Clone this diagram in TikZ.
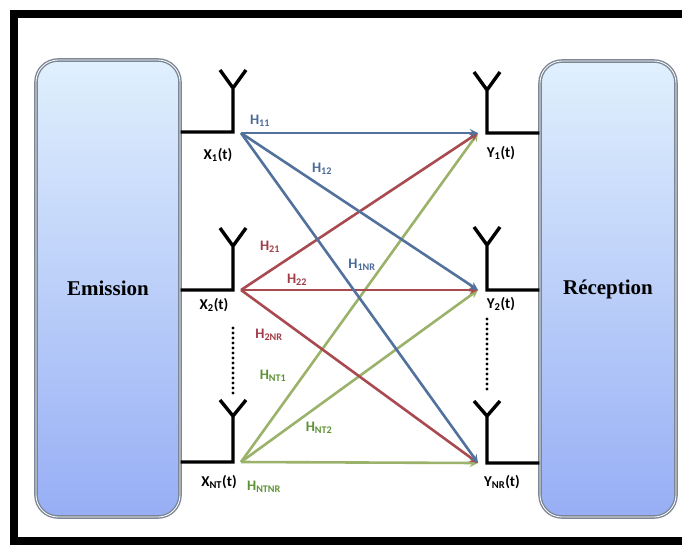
\documentclass[tikz,border=0pt]{standalone}
\usepackage{fontspec}
\setmainfont{Liberation Serif}
\newfontfamily\labelfont{Carlito}
\usepackage{tikz}
\usetikzlibrary{arrows, positioning}
\definecolor{boxtop}{HTML}{E0F0FD}
\definecolor{boxbot}{HTML}{97AEF5}
\definecolor{boxline}{HTML}{7C8796}
\definecolor{chblue}{HTML}{52719C}
\definecolor{chred}{HTML}{A84A50}
\definecolor{chgreen}{HTML}{9AB26A}
\definecolor{lbblue}{HTML}{4A6A9A}
\definecolor{lbred}{HTML}{A03C48}
\definecolor{lbgreen}{HTML}{5E9134}

\begin{document}
\begin{tikzpicture}[x=1pt,y=-1pt]
		\tikzset{BoxStyle/.style = {rounded corners=22pt, draw=boxline, double=white, double distance=0.8pt, line width=1.4pt, top color=boxtop, bottom color=boxbot, font=\bfseries\fontsize{21}{24}\selectfont}}
		\tikzset{AntStyle/.style = {draw=black, line width=3.4pt}}
		\tikzset{DotStyle/.style = {draw=black, line width=3.2pt, line cap=round, dash pattern=on 0pt off 5pt}}
		\tikzset{EdgeStyle/.style = {line width=2.6pt, -stealth}}
		\tikzset{SigLabel/.style = {font=\labelfont\bfseries\fontsize{15}{16}\selectfont, inner sep=0pt}}
		\tikzset{ChLabel/.style = {font=\labelfont\bfseries\fontsize{14.5}{16}\selectfont, inner sep=0pt}}
		\useasboundingbox (0,0) rectangle (682,544);
		\clip (0,0) rectangle (682,544);
		\draw[line width=8pt] (720,14) -- (14,14) -- (14,540.5) -- (720,540.5);% outer frame
		
		\node[BoxStyle, minimum width=144pt, minimum height=457pt] (emission) at (108,288.5) {Emission};
		\node[BoxStyle, minimum width=136pt, minimum height=456pt] (reception) at (608,289) {Réception};
		
		\coordinate (T1) at (233,132);
		\coordinate (T2) at (233,290);
		\coordinate (TN) at (233,462);
		\coordinate (R1) at (487,133);
		\coordinate (R2) at (487,290);
		\coordinate (RN) at (487,463);
		
		\draw[AntStyle] (emission.east |- T1) -- (T1) -- ++(0,-44) -- ++(-13,-18) ++(13,18) -- ++(13,-18);
		\draw[AntStyle] (emission.east |- T2) -- (T2) -- ++(0,-44) -- ++(-13,-18) ++(13,18) -- ++(13,-18);
		\draw[AntStyle] (emission.east |- TN) -- (TN) -- ++(0,-46) -- ++(-13,-16) ++(13,16) -- ++(13,-16);
		\draw[AntStyle] (reception.west |- R1) -- (R1) -- ++(0,-43) -- ++(-13,-18) ++(13,18) -- ++(13,-18);
		\draw[AntStyle] (reception.west |- R2) -- (R2) -- ++(0,-45) -- ++(-13,-18) ++(13,18) -- ++(13,-18);
		\draw[AntStyle] (reception.west |- RN) -- (RN) -- ++(0,-47) -- ++(-13,-15) ++(13,15) -- ++(13,-15);
		
		\coordinate (D1) at (233,328);
		\coordinate (D2) at (233,396);
		\coordinate (D3) at (487,319);
		\coordinate (D4) at (487,391);
		\draw[DotStyle] (D1) -- (D2);
		\draw[DotStyle] (D3) -- (D4);
		
		\node[SigLabel] (x1) at (218,155) {X\textsubscript{1}(t)};
		\node[SigLabel] (x2) at (214,305) {X\textsubscript{2}(t)};
		\node[SigLabel] (xn) at (219,482) {X\textsubscript{NT}(t)};
		\node[SigLabel] (y1) at (501,153) {Y\textsubscript{1}(t)};
		\node[SigLabel] (y2) at (501,304) {Y\textsubscript{2}(t)};
		\node[SigLabel] (yn) at (502,482) {Y\textsubscript{NR}(t)};
		
		%%%%%%%%%%%%%%%%%%%%%%%%%%%%%%
		
		\coordinate (X1) at (241,133);
		\coordinate (X2) at (241,290);
		\coordinate (XN) at (241,462);
		\coordinate (Y1) at (478,133);
		\coordinate (Y2) at (478,290);
		\coordinate (YN) at (478,463);
		
		\draw[EdgeStyle, chgreen] (XN) -- (Y1);
		\draw[EdgeStyle, chgreen] (XN) -- (Y2);
		\draw[EdgeStyle, chgreen] (XN) -- (YN);
		
		\draw[EdgeStyle, chred] (X2) -- (Y1);
		\draw[EdgeStyle, chred] (X2) -- (Y2);
		\draw[EdgeStyle, chred] (X2) -- (YN);
		
		\draw[EdgeStyle, chblue] (X1) -- (Y1);
		\draw[EdgeStyle, chblue] (X1) -- (Y2);
		\draw[EdgeStyle, chblue] (X1) -- (YN);
		
		\node[ChLabel, lbblue] (h11) at (260,121) {H\textsubscript{11}};
		\node[ChLabel, lbblue] (h12) at (322,169) {H\textsubscript{12}};
		\node[ChLabel, lbblue] (h1n) at (362,265) {H\textsubscript{1NR}};
		\node[ChLabel, lbred] (h21) at (270,247) {H\textsubscript{21}};
		\node[ChLabel, lbred] (h22) at (297,280) {H\textsubscript{22}};
		\node[ChLabel, lbred] (h2n) at (269,335) {H\textsubscript{2NR}};
		\node[ChLabel, lbgreen] (hn1) at (273,376) {H\textsubscript{NT1}};
		\node[ChLabel, lbgreen] (hn2) at (319,428) {H\textsubscript{NT2}};
		\node[ChLabel, lbgreen] (hnn) at (264,487) {H\textsubscript{NTNR}};
		
	\end{tikzpicture}
\end{document}
